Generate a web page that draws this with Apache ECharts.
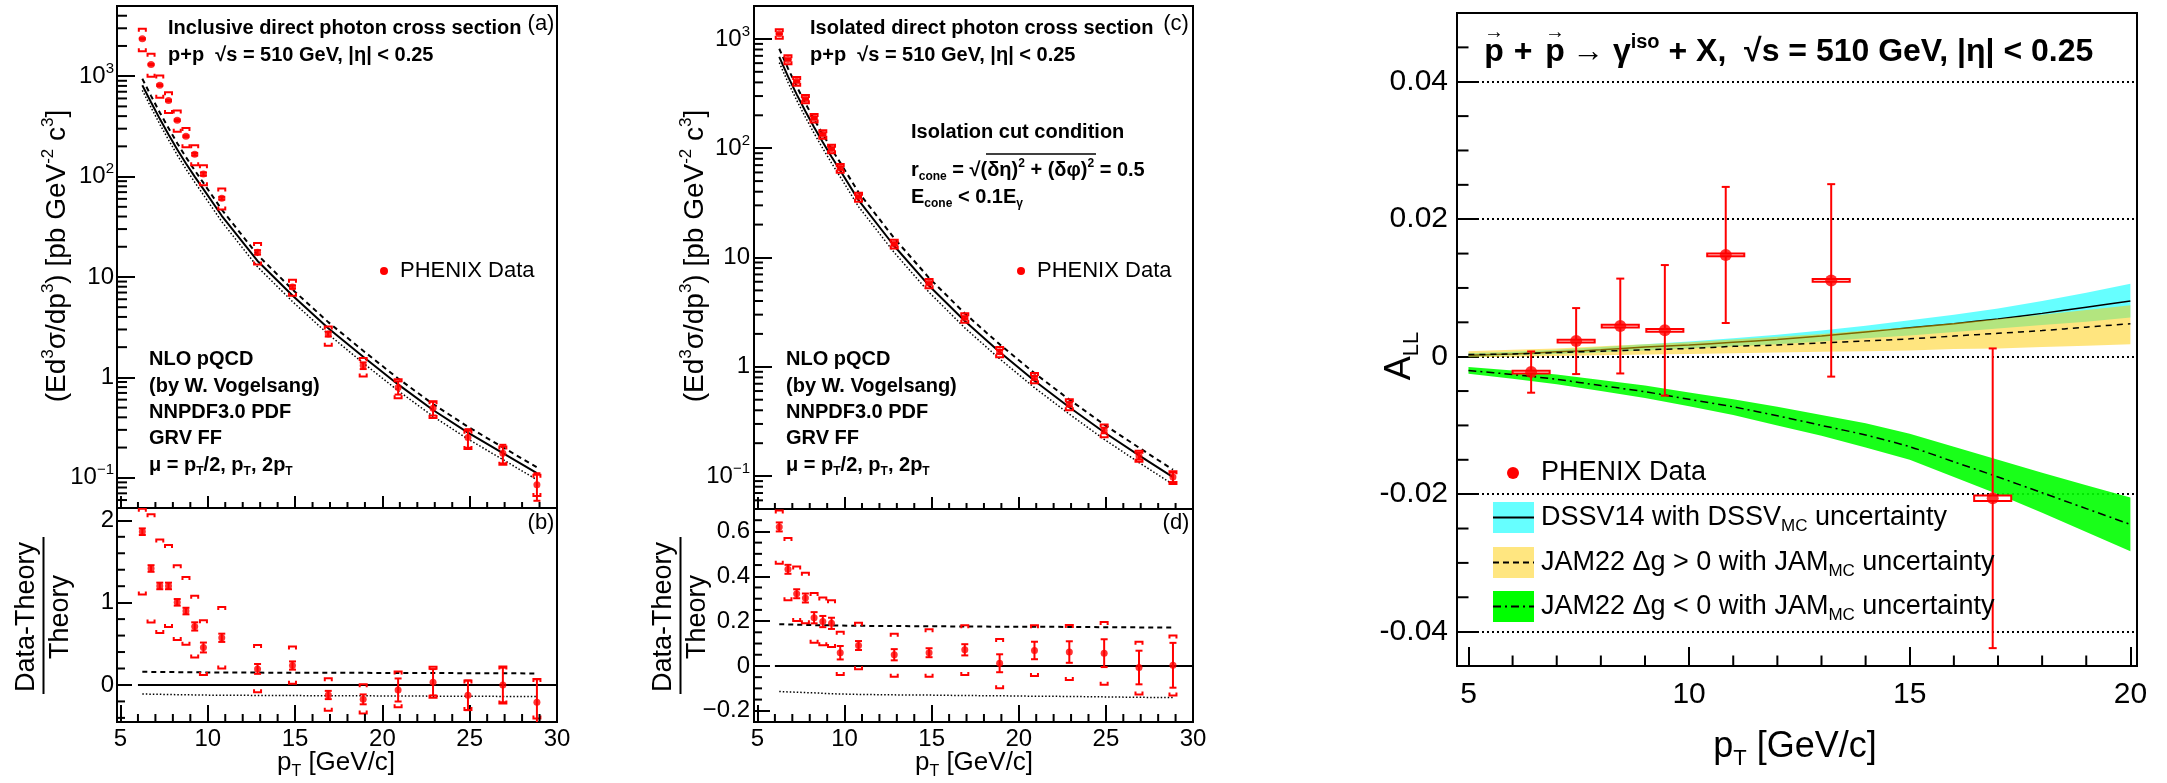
<!DOCTYPE html>
<html><head><meta charset="utf-8">
<script src="https://cdn.jsdelivr.net/npm/echarts@6/dist/echarts.min.js"></script>
<style>html,body{margin:0;padding:0;background:#fff}#c{width:2167px;height:783px}</style>
</head><body><div id="c"></div>
<script>
// ================= DATA =================
// shared pT bins of panels (a)-(d)
const ptBins = [6.25, 6.75, 7.25, 7.75, 8.25, 8.75, 9.25, 9.75, 10.8, 12.85, 14.85, 16.9, 18.9, 20.9, 22.9, 24.9, 26.9, 28.85];

// (a) inclusive direct photon cross section
const inclXsec    = [2356, 1306, 813, 572, 364, 252, 167, 106, 60.8, 17.6, 7.95, 2.70, 1.31, 0.794, 0.494, 0.252, 0.176, 0.085];
const inclStat    = [33, 22, 15, 10, 7, 5, 5, 4, 2, 0.9, 0.3, 0.15, 0.1, 0.12, 0.077, 0.053, 0.037, 0.026];
const inclSysHi   = [2965, 1670, 1015, 693, 455, 305, 205, 130, 75.9, 21.8, 9.4, 3.22, 1.56, 0.96, 0.577, 0.294, 0.205, 0.107];
const inclSysLo   = [1774, 985, 608, 431, 279, 196, 130, 82, 46.9, 13.3, 6.5, 2.07, 1.02, 0.62, 0.394, 0.193, 0.135, 0.066];
const inclNLO     = [812.8, 549.5, 375.8, 263, 186.2, 134.9, 100, 75, 40.7, 14.45, 6.53, 3.09, 1.603, 0.851, 0.473, 0.282, 0.176, 0.111];
const inclNLOhalf = [943, 637, 435, 304, 215, 156, 115.4, 86.5, 46.9, 16.6, 7.5, 3.55, 1.84, 0.975, 0.542, 0.322, 0.201, 0.127];
const inclNLOtwo  = [723, 488, 333, 232.5, 164, 118.8, 87.9, 65.8, 35.6, 12.6, 5.69, 2.69, 1.39, 0.737, 0.409, 0.243, 0.152, 0.0955];

// (b) (Data-Theory)/Theory, inclusive
const inclRatio      = [1.862, 1.415, 1.203, 1.203, 1.004, 0.898, 0.711, 0.455, 0.573, 0.195, 0.236, -0.122, -0.175, -0.061, 0.033, -0.126, 0.0, -0.211];
const inclRatioStat  = [0.04, 0.04, 0.04, 0.04, 0.04, 0.04, 0.05, 0.06, 0.05, 0.06, 0.05, 0.05, 0.06, 0.14, 0.16, 0.18, 0.21, 0.28];
const inclRatioSysHi = [2.142, 2.073, 1.768, 1.699, 1.455, 1.313, 1.085, 0.785, 0.947, 0.484, 0.467, 0.081, 0.008, 0.163, 0.220, 0.053, 0.224, 0.073];
const inclRatioSysLo = [1.098, 0.760, 0.630, 0.703, 0.545, 0.488, 0.333, 0.122, 0.199, -0.089, 0.016, -0.313, -0.346, -0.272, -0.154, -0.305, -0.224, -0.407];
const inclScaleHalf  = [0.160, 0.159, 0.158, 0.157, 0.156, 0.155, 0.154, 0.153, 0.152, 0.150, 0.149, 0.148, 0.147, 0.146, 0.145, 0.143, 0.142, 0.140];
const inclScaleTwo   = [-0.110, -0.112, -0.114, -0.116, -0.118, -0.119, -0.121, -0.123, -0.125, -0.127, -0.129, -0.131, -0.132, -0.134, -0.136, -0.137, -0.139, -0.140];

// (c) isolated direct photon cross section
const isoXsec    = [1112, 647, 410, 282, 189, 134, 98.8, 65.8, 35.9, 13.3, 5.8, 2.81, 1.37, 0.793, 0.454, 0.262, 0.153, 0.098];
const isoStat    = [13, 9, 6, 4.3, 3.9, 2.8, 2.1, 1.9, 0.66, 0.32, 0.11, 0.066, 0.054, 0.029, 0.020, 0.0155, 0.0115, 0.0098];
const isoSysHi   = [1223, 710, 448, 306.5, 206, 146, 107.4, 71.6, 39.2, 14.5, 6.37, 3.09, 1.52, 0.877, 0.506, 0.296, 0.171, 0.111];
const isoSysLo   = [1001, 585, 372, 257.5, 171.6, 122.2, 90.1, 59.7, 32.4, 12.1, 5.22, 2.53, 1.22, 0.708, 0.400, 0.227, 0.135, 0.0848];
const isoNLO     = [685.5, 454, 311, 217.8, 155.6, 113.2, 83.6, 62.5, 33.5, 12.74, 5.52, 2.62, 1.365, 0.745, 0.427, 0.252, 0.155, 0.0977];
const isoNLOhalf = [813, 538, 368, 257.7, 183.9, 133.7, 98.7, 73.8, 39.5, 15.0, 6.50, 3.08, 1.604, 0.875, 0.501, 0.296, 0.182, 0.1144];
const isoNLOtwo  = [607, 401, 274.6, 191.9, 136.9, 99.4, 73.2, 54.7, 29.2, 11.1, 4.80, 2.27, 1.183, 0.644, 0.369, 0.217, 0.133, 0.0839];

// (d) (Data-Theory)/Theory, isolated
const isoRatio      = [0.620, 0.431, 0.322, 0.303, 0.215, 0.198, 0.190, 0.059, 0.091, 0.050, 0.059, 0.072, 0.012, 0.069, 0.062, 0.057, -0.007, 0.003];
const isoRatioStat  = [0.02, 0.02, 0.02, 0.02, 0.025, 0.025, 0.025, 0.03, 0.02, 0.025, 0.02, 0.025, 0.04, 0.039, 0.048, 0.062, 0.075, 0.10];
const isoRatioSysHi = [0.693, 0.571, 0.444, 0.416, 0.325, 0.305, 0.293, 0.152, 0.193, 0.144, 0.164, 0.182, 0.120, 0.182, 0.183, 0.196, 0.108, 0.136];
const isoRatioSysLo = [0.456, 0.293, 0.201, 0.190, 0.103, 0.092, 0.085, -0.040, -0.015, -0.048, -0.048, -0.040, -0.100, -0.045, -0.063, -0.084, -0.127, -0.132];
const isoScaleHalf  = [0.186, 0.185, 0.184, 0.183, 0.182, 0.181, 0.181, 0.180, 0.179, 0.178, 0.177, 0.176, 0.175, 0.175, 0.174, 0.173, 0.172, 0.171];
const isoScaleTwo   = [-0.114, -0.116, -0.117, -0.119, -0.120, -0.122, -0.124, -0.125, -0.127, -0.129, -0.130, -0.132, -0.133, -0.135, -0.136, -0.138, -0.140, -0.141];
const refLinePt  = [6.0, 30];
const refLineVal = [0, 0];

// right panel: A_LL
const ptALL    = [6.42, 7.44, 8.44, 9.45, 10.83, 13.22, 16.88];
const valALL   = [-0.00224, 0.00227, 0.00446, 0.00383, 0.0148, 0.0111, -0.0206];
const statALL  = [0.0030, 0.0048, 0.0069, 0.0095, 0.0099, 0.0140, 0.0218];
const sysALL   = [0.0002, 0.0002, 0.0002, 0.0002, 0.0002, 0.0002, 0.0004];
const binHalfALL = [0.42, 0.42, 0.42, 0.42, 0.42, 0.42, 0.42];
const ptTheoryR = [5, 6, 7, 8, 9, 10, 11, 12, 13, 14, 15, 16, 17, 18, 19, 20];
const dssv     = [0.0002, 0.0004, 0.0007, 0.0010, 0.0014, 0.0017, 0.0021, 0.0025, 0.0030, 0.0036, 0.0042, 0.0048, 0.0055, 0.0063, 0.0072, 0.0081];
const dssvHi   = [0.0005, 0.0007, 0.0010, 0.0014, 0.0018, 0.0022, 0.0027, 0.0032, 0.0038, 0.0045, 0.0053, 0.0061, 0.0070, 0.0081, 0.0093, 0.0106];
const dssvLo   = [0.0000, 0.0002, 0.0004, 0.0006, 0.0009, 0.0012, 0.0015, 0.0018, 0.0022, 0.0027, 0.0031, 0.0036, 0.0041, 0.0046, 0.0051, 0.0057];
const jamPos   = [0.0003, 0.0004, 0.0006, 0.0008, 0.0010, 0.0012, 0.0015, 0.0017, 0.0020, 0.0023, 0.0026, 0.0030, 0.0034, 0.0038, 0.0043, 0.0048];
const jamPosHi = [0.0008, 0.0010, 0.0012, 0.0015, 0.0018, 0.0021, 0.0025, 0.0029, 0.0033, 0.0038, 0.0043, 0.0049, 0.0055, 0.0061, 0.0068, 0.0075];
const jamPosLo = [-0.0001, 0.0000, 0.0001, 0.0002, 0.0003, 0.0004, 0.0005, 0.0006, 0.0007, 0.0008, 0.0009, 0.0011, 0.0012, 0.0014, 0.0016, 0.0018];
const jamNeg   = [-0.0020, -0.0026, -0.0033, -0.0042, -0.0051, -0.0062, -0.0073, -0.0086, -0.0100, -0.0114, -0.0131, -0.0153, -0.0175, -0.0198, -0.0221, -0.0244];
const jamNegHi = [-0.0015, -0.0020, -0.0026, -0.0034, -0.0042, -0.0052, -0.0062, -0.0073, -0.0085, -0.0097, -0.0112, -0.0131, -0.0150, -0.0169, -0.0187, -0.0205];
const jamNegLo = [-0.0025, -0.0032, -0.0040, -0.0050, -0.0060, -0.0072, -0.0085, -0.0100, -0.0115, -0.0132, -0.0150, -0.0175, -0.0200, -0.0227, -0.0255, -0.0283];

// tick values
const xMajorL = [5, 10, 15, 20, 25, 30];
const xMinorL = [6, 7, 8, 9, 11, 12, 13, 14, 16, 17, 18, 19, 21, 22, 23, 24, 26, 27, 28, 29];
const logMinor = [0.06, 0.07, 0.08, 0.09, 0.2, 0.3, 0.4, 0.5, 0.6, 0.7, 0.8, 0.9, 2, 3, 4, 5, 6, 7, 8, 9,
                  20, 30, 40, 50, 60, 70, 80, 90, 200, 300, 400, 500, 600, 700, 800, 900, 2000, 3000, 4000];
const yMajorB = [0, 1, 2];
const yMinorB = [-0.4, -0.2, 0.2, 0.4, 0.6, 0.8, 1.2, 1.4, 1.6, 1.8];
const yMajorD = [-0.2, 0, 0.2, 0.4, 0.6];
const yMinorD = [-0.15, -0.1, -0.05, 0.05, 0.1, 0.15, 0.25, 0.3, 0.35, 0.45, 0.5, 0.55, 0.65];
const xMajorR = [5, 10, 15, 20];
const xMinorR = [6, 7, 8, 9, 11, 12, 13, 14, 16, 17, 18, 19];
const yMajorR = [-0.04, -0.02, 0, 0.02, 0.04];
const yMinorR = [-0.035, -0.03, -0.025, -0.015, -0.01, -0.005, 0.005, 0.01, 0.015, 0.025, 0.03, 0.035, 0.045];

// ================= RENDER =================
const FF = "'Liberation Sans', Arial, Helvetica, sans-serif";
const RED = '#ff0000', BLACK = '#000000';
const XL = [4.8, 30], XR = [4.74, 20.15];
const YA = [0.05, 5000], YB = [-0.45, 2.15], YC = [0.05, 2000], YD = [-0.25, 0.7], YR = [-0.045, 0.05];

const chart = echarts.init(document.getElementById('c'));

function gridDef(left, top, width, height) {
  return {left, top, width, height, show: true, borderColor: BLACK, borderWidth: 2, backgroundColor: 'transparent'};
}
function linAxis(gi, ext, majors, tickLen, showLabels, margin, size, fmt) {
  return {
    type: 'value', gridIndex: gi, min: ext[0], max: ext[1],
    axisLine: {show: false, onZero: false}, splitLine: {show: false},
    axisTick: {show: true, inside: true, length: tickLen, customValues: majors, lineStyle: {color: BLACK, width: 2}},
    axisLabel: {show: showLabels, customValues: majors, margin, fontSize: size, fontFamily: FF, color: BLACK,
      formatter: fmt || (v => String(v))}
  };
}
function logAxis(gi, ext, tickLen, margin, size) {
  return {
    type: 'log', logBase: 10, gridIndex: gi, min: ext[0], max: ext[1],
    axisLine: {show: false, onZero: false}, splitLine: {show: false},
    axisTick: {show: true, inside: true, length: tickLen, lineStyle: {color: BLACK, width: 2}},
    axisLabel: {margin, fontSize: size, fontFamily: FF, color: BLACK, showMinLabel: false, showMaxLabel: false,
      lineHeight: 30,
      formatter: v => {
        const e = Math.round(Math.log10(v));
        if (e === 0) return '1';
        if (e === 1) return '10';
        return '10{sup|' + (e < 0 ? '−' : '') + Math.abs(e) + '}';
      },
      rich: {sup: {fontSize: 15, fontFamily: FF, color: BLACK, verticalAlign: 'top', lineHeight: 14}}}
  };
}
const minusFmt = (m) => (v => v === 0 ? '0' : (v < 0 ? m : '') + String(Math.abs(v)));

function yTicks(xi, yi, xEdge, vals, len) {
  return {type: 'custom', xAxisIndex: xi, yAxisIndex: yi, silent: true, animation: false, clip: false, z: 20,
    data: vals.map(v => [xEdge, v]),
    renderItem: (p, api) => {
      const c = api.coord([api.value(0), api.value(1)]);
      return {type: 'line', shape: {x1: c[0], y1: c[1], x2: c[0] + len, y2: c[1]}, style: {stroke: BLACK, lineWidth: 2}};
    }};
}
function xTicks(xi, yi, yEdge, vals, len) {
  return {type: 'custom', xAxisIndex: xi, yAxisIndex: yi, silent: true, animation: false, clip: false, z: 20,
    data: vals.map(v => [v, yEdge]),
    renderItem: (p, api) => {
      const c = api.coord([api.value(0), api.value(1)]);
      return {type: 'line', shape: {x1: c[0], y1: c[1], x2: c[0], y2: c[1] - len}, style: {stroke: BLACK, lineWidth: 2}};
    }};
}
function errBars(xi, yi, xs, ys, err, cap, lw, z) {
  return {type: 'custom', xAxisIndex: xi, yAxisIndex: yi, silent: true, animation: false, clip: true, z: z || 8,
    data: xs.map((x, i) => [x, ys[i] - err[i], ys[i] + err[i]]),
    renderItem: (p, api) => {
      const x = api.value(0);
      const a = api.coord([x, api.value(1)]), b = api.coord([x, api.value(2)]);
      const st = {stroke: RED, lineWidth: lw};
      return {type: 'group', children: [
        {type: 'line', shape: {x1: a[0], y1: a[1], x2: b[0], y2: b[1]}, style: st},
        {type: 'line', shape: {x1: a[0] - cap, y1: a[1], x2: a[0] + cap, y2: a[1]}, style: st},
        {type: 'line', shape: {x1: b[0] - cap, y1: b[1], x2: b[0] + cap, y2: b[1]}, style: st}]};
    }};
}
function brackets(xi, yi, xs, vals, dir) {
  return {type: 'custom', xAxisIndex: xi, yAxisIndex: yi, silent: true, animation: false, clip: true, z: 7,
    data: xs.map((x, i) => [x, vals[i]]),
    renderItem: (p, api) => {
      const c = api.coord([api.value(0), api.value(1)]);
      const w = 3.5, leg = 3 * dir;
      return {type: 'polyline', shape: {points: [[c[0] - w, c[1] + leg], [c[0] - w, c[1]], [c[0] + w, c[1]], [c[0] + w, c[1] + leg]]},
        style: {stroke: RED, lineWidth: 2, fill: null}};
    }};
}
function scatter(xi, yi, xs, ys, size) {
  return {type: 'scatter', xAxisIndex: xi, yAxisIndex: yi, silent: true, animation: false, z: 9,
    data: xs.map((x, i) => [x, ys[i]]), symbol: 'circle', symbolSize: size, itemStyle: {color: RED}};
}
function curve(xi, yi, xs, ys, type, width, z, smooth) {
  return {type: 'line', xAxisIndex: xi, yAxisIndex: yi, silent: true, animation: false, z: z || 5,
    data: xs.map((x, i) => [x, ys[i]]), showSymbol: false, symbol: 'none', smooth: smooth || false,
    lineStyle: {color: BLACK, width, type}};
}
function band(xi, yi, xs, lo, hi, fill, z) {
  return {type: 'custom', xAxisIndex: xi, yAxisIndex: yi, silent: true, animation: false, clip: true, z,
    data: [[xs[0], lo[0]]],
    renderItem: (p, api) => {
      const pts = [];
      for (let i = 0; i < xs.length; i++) pts.push(api.coord([xs[i], hi[i]]));
      for (let i = xs.length - 1; i >= 0; i--) pts.push(api.coord([xs[i], lo[i]]));
      return {type: 'polygon', shape: {points: pts}, style: {fill}};
    }};
}
function sysBoxes(xi, yi, xs, ys, sys, dx) {
  return {type: 'custom', xAxisIndex: xi, yAxisIndex: yi, silent: true, animation: false, clip: true, z: 8,
    data: xs.map((x, i) => [x, ys[i], sys[i], dx[i]]),
    renderItem: (p, api) => {
      const x = api.value(0), y = api.value(1), s = api.value(2), d = api.value(3);
      const a = api.coord([x - d, y + s]), b = api.coord([x + d, y - s]);
      return {type: 'rect', shape: {x: a[0], y: a[1], width: b[0] - a[0], height: b[1] - a[1]},
        style: {stroke: RED, lineWidth: 2, fill: '#ffffff'}};
    }};
}

// ---------- text helpers ----------
function rich(size, bold) {
  const w = bold ? 'bold' : 'normal';
  return {
    sup: {fontSize: Math.round(size * 0.62), fontFamily: FF, fontWeight: w, fill: BLACK, verticalAlign: 'top', lineHeight: Math.round(size * 0.62)},
    sub: {fontSize: Math.round(size * 0.62), fontFamily: FF, fontWeight: w, fill: BLACK, verticalAlign: 'bottom', lineHeight: Math.round(size * 0.62)}
  };
}
function txt(x, y, text, size, o) {
  o = o || {};
  return {type: 'text', x, y, rotation: o.rot || 0, silent: true, z: 100,
    style: {text, fontSize: size, fontFamily: FF, fontWeight: o.bold ? 'bold' : 'normal', fill: o.color || BLACK,
      align: o.align || 'left', verticalAlign: 'middle', lineHeight: Math.round(size * 1.25), rich: rich(size, o.bold)}};
}
function gline(x1, y1, x2, y2, w, dash) {
  return {type: 'line', silent: true, z: 100, shape: {x1, y1, x2, y2}, style: {stroke: BLACK, lineWidth: w, lineDash: dash || null}};
}
const R90 = Math.PI / 2;
const nloLines = ['NLO pQCD', '(by W. Vogelsang)', 'NNPDF3.0 PDF', 'GRV FF', 'μ = p{sub|T}/2, p{sub|T}, 2p{sub|T}'];
const nloY = [359, 386, 412, 438, 465];

const graphics = [];
// panel (a)
graphics.push(txt(168, 28, 'Inclusive direct photon cross section', 20, {bold: true}));
graphics.push(txt(168, 55, 'p+p  √s = 510 GeV, |η| < 0.25', 20, {bold: true}));
graphics.push(txt(541, 24, '(a)', 22, {align: 'center'}));
nloLines.forEach((t, i) => graphics.push(txt(149, nloY[i], t, 20, {bold: true})));
graphics.push({type: 'circle', silent: true, z: 100, shape: {cx: 384, cy: 271, r: 4}, style: {fill: RED}});
graphics.push(txt(400, 271, 'PHENIX Data', 22));
graphics.push(txt(57, 256, '(Ed{sup|3}σ/dp{sup|3}) [pb GeV{sup|-2} c{sup|3}]', 28, {align: 'center', rot: R90}));
// panel (b)
graphics.push(txt(541, 523, '(b)', 22, {align: 'center'}));
graphics.push(txt(27, 617, 'Data-Theory', 27, {align: 'center', rot: R90}));
graphics.push(gline(43.5, 537, 43.5, 694, 2));
graphics.push(txt(61, 617, 'Theory', 27, {align: 'center', rot: R90}));
graphics.push(txt(336, 763, 'p{sub|T} [GeV/c]', 26, {align: 'center'}));
// panel (c)
graphics.push(txt(810, 28, 'Isolated direct photon cross section', 20, {bold: true}));
graphics.push(txt(810, 55, 'p+p  √s = 510 GeV, |η| < 0.25', 20, {bold: true}));
graphics.push(txt(1176, 24, '(c)', 22, {align: 'center'}));
graphics.push(txt(911, 132, 'Isolation cut condition', 20, {bold: true}));
graphics.push(txt(911, 170, 'r{sub|cone} = √(δη){sup|2} + (δφ){sup|2} = 0.5', 20, {bold: true}));
graphics.push(gline(986, 154, 1096, 154, 1.5));
graphics.push(txt(911, 197, 'E{sub|cone} < 0.1E{sub|γ}', 20, {bold: true}));
nloLines.forEach((t, i) => graphics.push(txt(786, nloY[i], t, 20, {bold: true})));
graphics.push({type: 'circle', silent: true, z: 100, shape: {cx: 1021, cy: 271, r: 4}, style: {fill: RED}});
graphics.push(txt(1037, 271, 'PHENIX Data', 22));
graphics.push(txt(695, 256, '(Ed{sup|3}σ/dp{sup|3}) [pb GeV{sup|-2} c{sup|3}]', 28, {align: 'center', rot: R90}));
// panel (d)
graphics.push(txt(1176, 523, '(d)', 22, {align: 'center'}));
graphics.push(txt(664, 617, 'Data-Theory', 27, {align: 'center', rot: R90}));
graphics.push(gline(680.5, 537, 680.5, 694, 2));
graphics.push(txt(698, 617, 'Theory', 27, {align: 'center', rot: R90}));
graphics.push(txt(974, 763, 'p{sub|T} [GeV/c]', 26, {align: 'center'}));
// right panel
graphics.push(txt(1494, 52, 'p', 32, {bold: true, align: 'center'}));
graphics.push(txt(1523, 52, '+', 32, {bold: true, align: 'center'}));
graphics.push(txt(1555, 52, 'p', 32, {bold: true, align: 'center'}));
graphics.push(txt(1494, 32, '→', 20, {align: 'center'}));
graphics.push(txt(1555, 32, '→', 20, {align: 'center'}));
graphics.push(txt(1572, 52, '→ γ{sup|iso} + X,  √s = 510 GeV, |η| < 0.25', 32, {bold: true}));
graphics.push({type: 'circle', silent: true, z: 100, shape: {cx: 1513, cy: 473, r: 6}, style: {fill: RED}});
graphics.push(txt(1541, 473, 'PHENIX Data', 27));
graphics.push({type: 'rect', silent: true, z: 99, shape: {x: 1493, y: 502, width: 41, height: 31}, style: {fill: '#66ffff'}});
graphics.push(gline(1493, 517.5, 1534, 517.5, 2));
graphics.push(txt(1541, 518, 'DSSV14 with DSSV{sub|MC} uncertainty', 27));
graphics.push({type: 'rect', silent: true, z: 99, shape: {x: 1493, y: 547, width: 41, height: 31}, style: {fill: '#ffe680'}});
graphics.push(gline(1493, 562.5, 1534, 562.5, 2, [6, 4]));
graphics.push(txt(1541, 563, 'JAM22 Δg > 0 with JAM{sub|MC} uncertainty', 27));
graphics.push({type: 'rect', silent: true, z: 99, shape: {x: 1493, y: 591, width: 41, height: 31}, style: {fill: '#00ff00'}});
graphics.push(gline(1493, 606.5, 1534, 606.5, 2, [8, 4, 2, 4]));
graphics.push(txt(1541, 607, 'JAM22 Δg < 0 with JAM{sub|MC} uncertainty', 27));
graphics.push(txt(1795, 747, 'p{sub|T} [GeV/c]', 36, {align: 'center'}));
graphics.push(txt(1400, 356, 'A{sub|LL}', 36, {align: 'center', rot: R90}));

const series = [
  // ---- (a) ----
  curve(0, 0, ptBins, inclNLO, 'solid', 2),
  curve(0, 0, ptBins, inclNLOhalf, [5, 4], 2),
  curve(0, 0, ptBins, inclNLOtwo, [1.5, 2], 1.5),
  brackets(0, 0, ptBins, inclSysHi, 1),
  brackets(0, 0, ptBins, inclSysLo, -1),
  errBars(0, 0, ptBins, inclXsec, inclStat, 3.5, 2),
  scatter(0, 0, ptBins, inclXsec, 7),
  yTicks(0, 0, XL[0], logMinor, 10),
  xTicks(0, 0, YA[0], xMinorL, 6),
  // ---- (b) ----
  curve(1, 1, refLinePt, refLineVal, 'solid', 2),
  curve(1, 1, ptBins, inclScaleHalf, [5, 4], 2),
  curve(1, 1, ptBins, inclScaleTwo, [1.5, 2], 1.5),
  brackets(1, 1, ptBins, inclRatioSysHi, 1),
  brackets(1, 1, ptBins, inclRatioSysLo, -1),
  errBars(1, 1, ptBins, inclRatio, inclRatioStat, 3.5, 2),
  scatter(1, 1, ptBins, inclRatio, 7),
  yTicks(1, 1, XL[0], yMinorB, 8),
  xTicks(1, 1, YB[0], xMinorL, 8),
  // ---- (c) ----
  curve(2, 2, ptBins, isoNLO, 'solid', 2),
  curve(2, 2, ptBins, isoNLOhalf, [5, 4], 2),
  curve(2, 2, ptBins, isoNLOtwo, [1.5, 2], 1.5),
  brackets(2, 2, ptBins, isoSysHi, 1),
  brackets(2, 2, ptBins, isoSysLo, -1),
  errBars(2, 2, ptBins, isoXsec, isoStat, 3.5, 2),
  scatter(2, 2, ptBins, isoXsec, 7),
  yTicks(2, 2, XL[0], logMinor, 9),
  xTicks(2, 2, YC[0], xMinorL, 6),
  // ---- (d) ----
  curve(3, 3, refLinePt, refLineVal, 'solid', 2),
  curve(3, 3, ptBins, isoScaleHalf, [5, 4], 2),
  curve(3, 3, ptBins, isoScaleTwo, [1.5, 2], 1.5),
  brackets(3, 3, ptBins, isoRatioSysHi, 1),
  brackets(3, 3, ptBins, isoRatioSysLo, -1),
  errBars(3, 3, ptBins, isoRatio, isoRatioStat, 3.5, 2),
  scatter(3, 3, ptBins, isoRatio, 7),
  yTicks(3, 3, XL[0], yMinorD, 8),
  xTicks(3, 3, YD[0], xMinorL, 8),
  // ---- right: A_LL ----
  band(4, 4, ptTheoryR, dssvLo, dssvHi, 'rgba(0,255,255,0.6)', 1),
  curve(4, 4, ptTheoryR, dssv, 'solid', 1.5, 2, 0.3),
  band(4, 4, ptTheoryR, jamPosLo, jamPosHi, 'rgba(255,204,0,0.5)', 3),
  curve(4, 4, ptTheoryR, jamPos, [6, 5], 1.5, 4, 0.3),
  band(4, 4, ptTheoryR, jamNegLo, jamNegHi, 'rgba(0,255,0,0.9)', 5),
  curve(4, 4, ptTheoryR, jamNeg, [8, 4, 2, 4], 1.5, 6, 0.3),
  errBars(4, 4, ptALL, valALL, statALL, 4, 2, 8),
  sysBoxes(4, 4, ptALL, valALL, sysALL, binHalfALL),
  scatter(4, 4, ptALL, valALL, 12),
  yTicks(4, 4, XR[0], yMinorR, 11.5),
  xTicks(4, 4, YR[0], xMinorR, 10.5)
];

const option = {
  animation: false,
  backgroundColor: '#ffffff',
  textStyle: {fontFamily: FF},
  grid: [
    gridDef(117, 6, 440, 502),
    gridDef(117, 508, 440, 214),
    gridDef(754, 6, 439, 503),
    gridDef(754, 509, 439, 213),
    gridDef(1457, 13, 680, 653)
  ],
  xAxis: [
    linAxis(0, XL, xMajorL, 12, false, 4, 24),
    linAxis(1, XL, xMajorL, 17, true, 5, 24),
    linAxis(2, XL, xMajorL, 12, false, 4, 24),
    linAxis(3, XL, xMajorL, 17, true, 5, 24),
    linAxis(4, XR, xMajorR, 19, true, 14, 30)
  ],
  yAxis: [
    logAxis(0, YA, 18, 3, 24),
    linAxis(1, YB, yMajorB, 15, true, 3, 24),
    logAxis(2, YC, 18, 4, 24),
    linAxis(3, YD, yMajorD, 16, true, 4, 24, minusFmt('−')),
    Object.assign(linAxis(4, YR, yMajorR, 22, true, 9, 30, minusFmt('-')),
      {splitLine: {show: true, lineStyle: {color: BLACK, width: 2, type: [2, 3]}}})
  ],
  series,
  graphic: {elements: graphics}
};
chart.setOption(option);
</script></body></html>
